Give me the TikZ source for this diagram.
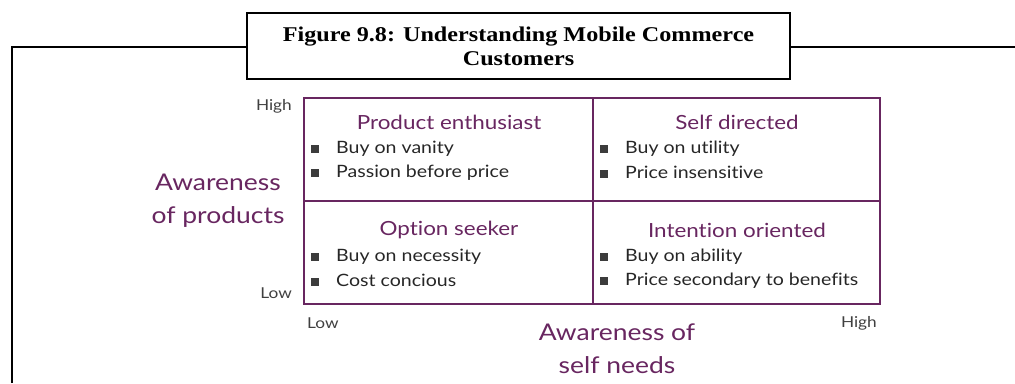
\documentclass[tikz,border=0pt]{standalone}
\usepackage{fontspec}
\setmainfont{Liberation Serif}
\newfontfamily\tfont[FakeStretch=1.15]{Liberation Serif}
\newfontfamily\qfont[FakeStretch=1.15,Ligatures=NoCommon]{Lato}
\definecolor{plum}{RGB}{104,38,96}
\definecolor{sqgray}{RGB}{60,60,60}
\newcommand{\bsq}{\textcolor{sqgray}{\raisebox{0.3pt}{\rule{8pt}{8pt}}}\hspace{17pt}}
\begin{document}
\begin{tikzpicture}[x=1pt,y=-1pt,
  frame/.style={line width=2.4pt,black},
  titlebox/.style={draw,line width=2pt,minimum width=543pt,minimum height=66pt,align=center,inner sep=0pt,font=\tfont\bfseries\fontsize{21}{24}\selectfont},
  grid/.style={draw=plum,line width=1.6pt},
  head/.style={font=\qfont\fontsize{19.5}{21}\selectfont,text=plum,inner sep=0pt},
  item/.style={font=\qfont\fontsize{17}{19}\selectfont,text=black!85,inner sep=0pt,anchor=west},
  axis/.style={font=\qfont\fontsize{23}{33}\selectfont,text=plum,align=center,inner sep=0pt},
  tick/.style={font=\qfont\fontsize{15}{17}\selectfont,text=black!75,inner sep=0pt}]
\useasboundingbox (0,0) rectangle (1015,383);
% frame
\coordinate (fl) at (12,383);
\coordinate (fc) at (12,47);
\coordinate (fr) at (1015,47);
\node[titlebox,fill=white] (title) at (518.5,46) {Figure 9.8: Understanding Mobile Commerce\\Customers};
\draw[frame] (fl) -- (fc) -- (title.west |- fc);
\draw[frame] (title.east |- fr) -- (fr);
% grid
\draw[grid] (304,98) rectangle (880,304);
\draw[grid] (593,98) -- (593,304);
\draw[grid] (304,201) -- (880,201);
% headings
\node[head] (h1) at (449,122) {Product enthusiast};
\node[head] (h2) at (737,122) {Self directed};
\node[head] (h3) at (449,230) {Option seeker};
\node[head] (h4) at (737,230) {Intention oriented};
% items
\node[item] (a1) at (311,148.5) {\bsq Buy on vanity};
\node[item] (a2) at (311,172.5) {\bsq Passion before price};
\node[item] (b1) at (600,148.5) {\bsq Buy on utility};
\node[item] (b2) at (600,172.5) {\bsq Price insensitive};
\node[item] (c1) at (311,256.5) {\bsq Buy on necessity};
\node[item] (c2) at (311,280.5) {\bsq Cost concious};
\node[item] (d1) at (600,256.5) {\bsq Buy on ability};
\node[item] (d2) at (600,280.5) {\bsq Price secondary to benefits};
% ticks
\node[tick,anchor=east] (yh) at (292,106) {High};
\node[tick,anchor=east] (yl) at (292,293) {Low};
\node[tick,anchor=west] (xl) at (307,323) {Low};
\node[tick,anchor=east] (xh) at (877,323) {High};
% axis labels
\node[axis] (ya) at (218,201) {Awareness\\of products};
\node[axis] (xa) at (617,349) {Awareness of\\self needs};
\end{tikzpicture}
\end{document}
